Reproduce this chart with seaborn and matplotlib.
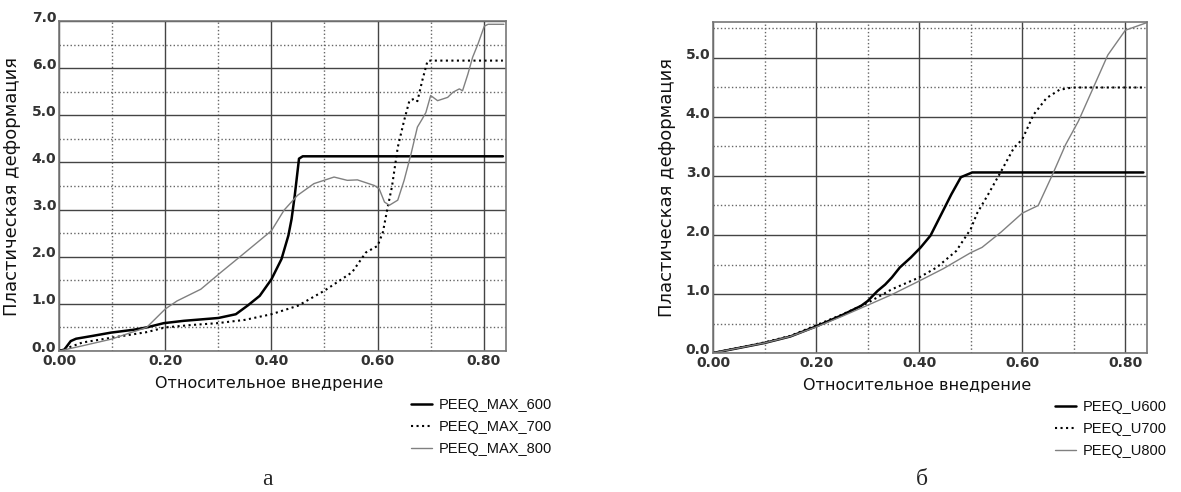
import matplotlib
matplotlib.use("Agg")
import matplotlib.pyplot as plt
import matplotlib.transforms as mtransforms
import seaborn as sns
import pandas as pd
from matplotlib.ticker import MultipleLocator, FormatStrFormatter

# ---- данные (а): PEEQ_MAX ----
x_max600 = [0, 0.01, 0.022, 0.032, 0.063, 0.098, 0.14, 0.165, 0.197, 0.235, 0.30, 0.333, 0.356,
            0.378, 0.40, 0.419, 0.432, 0.438, 0.444, 0.452, 0.459, 0.836]
y_max600 = [0, 0.03, 0.21, 0.26, 0.32, 0.39, 0.45, 0.50, 0.59, 0.64, 0.70, 0.78, 0.97,
            1.17, 1.52, 1.95, 2.45, 2.80, 3.30, 4.08, 4.13, 4.13]

x_max700 = [0, 0.044, 0.098, 0.165, 0.2, 0.248, 0.298, 0.35, 0.40, 0.45, 0.50, 0.552, 0.578, 0.60,
            0.61, 0.619, 0.627, 0.638, 0.65, 0.66, 0.669, 0.675, 0.684, 0.694, 0.70, 0.836]
y_max700 = [0, 0.18, 0.28, 0.40, 0.50, 0.55, 0.59, 0.66, 0.78, 0.96, 1.28, 1.67, 2.09, 2.23,
            2.52, 3.05, 3.48, 4.32, 4.89, 5.31, 5.35, 5.30, 5.73, 6.15, 6.16, 6.16]

x_max800 = [0, 0.044, 0.098, 0.165, 0.2, 0.222, 0.267, 0.305, 0.343, 0.40, 0.424, 0.449, 0.48,
            0.518, 0.543, 0.562, 0.594, 0.603, 0.613, 0.622, 0.638, 0.65, 0.663, 0.675, 0.684,
            0.691, 0.70, 0.713, 0.732, 0.742, 0.754, 0.76, 0.77, 0.779, 0.789, 0.801, 0.808, 0.838]
y_max800 = [0, 0.11, 0.25, 0.50, 0.89, 1.06, 1.31, 1.67, 2.02, 2.55, 2.99, 3.30, 3.55,
            3.69, 3.62, 3.63, 3.51, 3.44, 3.16, 3.09, 3.20, 3.62, 4.18, 4.75, 4.92,
            5.06, 5.42, 5.31, 5.38, 5.49, 5.56, 5.52, 5.87, 6.23, 6.51, 6.89, 6.93, 6.93]

# ---- данные (б): PEEQ_U ----
x_u600 = [0, 0.05, 0.1, 0.15, 0.2, 0.25, 0.2875, 0.30, 0.319, 0.334, 0.347, 0.3625, 0.384, 0.403,
          0.422, 0.444, 0.4625, 0.481, 0.503, 0.835]
y_u600 = [0, 0.085, 0.17, 0.28, 0.45, 0.64, 0.80, 0.88, 1.05, 1.16, 1.28, 1.45, 1.62, 1.79,
          1.99, 2.37, 2.69, 2.98, 3.06, 3.06]

x_u700 = [0, 0.05, 0.1, 0.15, 0.2, 0.25, 0.3, 0.347, 0.4, 0.434, 0.472, 0.5, 0.5125, 0.534, 0.559,
          0.584, 0.6, 0.622, 0.647, 0.672, 0.697, 0.835]
y_u700 = [0, 0.09, 0.18, 0.29, 0.47, 0.65, 0.85, 1.08, 1.28, 1.45, 1.73, 2.10, 2.37, 2.69, 3.08,
          3.48, 3.62, 4.04, 4.32, 4.46, 4.50, 4.50]

x_u800 = [0, 0.05, 0.1, 0.15, 0.2, 0.25, 0.3, 0.347, 0.4, 0.447, 0.5, 0.522, 0.559, 0.6, 0.631,
          0.659, 0.684, 0.709, 0.7375, 0.766, 0.80, 0.842]
y_u800 = [0, 0.085, 0.17, 0.28, 0.44, 0.62, 0.81, 0.99, 1.22, 1.43, 1.70, 1.79, 2.05, 2.37, 2.50,
          3.03, 3.53, 3.93, 4.49, 5.05, 5.47, 5.60]

labels_a = ['PEEQ_MAX_600', 'PEEQ_MAX_700', 'PEEQ_MAX_800']
labels_b = ['PEEQ_U600', 'PEEQ_U700', 'PEEQ_U800']

styles = [dict(color='black', lw=1.8, ls='-'),
          dict(color='black', lw=1.5, ls=':'),
          dict(color='#808080', lw=1.0, ls='-')]

sns.set_theme(style="white")
plt.rcParams['font.family'] = ['DejaVu Sans']

fig = plt.figure(figsize=(11.81, 4.92), dpi=100)
ax_a = fig.add_axes([0.050, 0.2866, 0.3785, 0.6707])
ax_b = fig.add_axes([0.6037, 0.2825, 0.3675, 0.6728])


def draw(ax, xs, ys, labels, ymax):
    for x, y, lab, st in zip(xs, ys, labels, styles):
        df = pd.DataFrame({'x': x, 'y': y})
        sns.lineplot(data=df, x='x', y='y', ax=ax, sort=False, label=lab,
                     color=st['color'], linewidth=st['lw'], linestyle=st['ls'])
    ax.set_xlim(0, 0.842)
    ax.set_ylim(0, ymax)
    ax.xaxis.set_major_locator(MultipleLocator(0.2))
    ax.xaxis.set_minor_locator(MultipleLocator(0.1))
    ax.yaxis.set_major_locator(MultipleLocator(1.0))
    ax.yaxis.set_minor_locator(MultipleLocator(0.5))
    ax.xaxis.set_major_formatter(FormatStrFormatter('%.2f'))
    ax.yaxis.set_major_formatter(FormatStrFormatter('%.1f'))
    ax.grid(which='major', color='#444444', lw=1.0, ls='-')
    ax.grid(which='minor', color='#666666', lw=1.0, ls=':')
    ax.set_axisbelow(True)
    ax.tick_params(which='both', length=0, labelsize=10, labelcolor='#333333')
    ax.tick_params(axis='y', pad=2)
    ax.tick_params(axis='x', pad=2)
    for t in ax.get_xticklabels() + ax.get_yticklabels():
        t.set_fontweight('bold')
    # подписи по оси Y чуть выше линий сетки
    shift = mtransforms.ScaledTranslation(0, 3.5 / 72, fig.dpi_scale_trans)
    for t in ax.get_yticklabels():
        t.set_transform(t.get_transform() + shift)
    for s in ax.spines.values():
        s.set_color('#777777')
        s.set_linewidth(1.2)
    ax.set_xlabel('Относительное внедрение', fontsize=11.5, color='#111111')
    ax.set_ylabel('Пластическая деформация', fontsize=13, color='#111111')
    ax.xaxis.set_label_coords(0.47, -0.075)
    ax.yaxis.set_label_coords(-0.085, 0.5)
    leg = ax.legend(loc='upper left', bbox_to_anchor=(0.775, -0.125), frameon=False,
                    handlelength=1.4, handletextpad=0.5, labelspacing=0.55,
                    borderaxespad=0, prop={'family': 'Liberation Sans', 'size': 10.5})
    for t in leg.get_texts():
        t.set_color('#111111')


draw(ax_a, [x_max600, x_max700, x_max800], [y_max600, y_max700, y_max800], labels_a, 7.0)
draw(ax_b, [x_u600, x_u700, x_u800], [y_u600, y_u700, y_u800], labels_b, 5.61)

fig.text(0.226, 0.015, 'а', fontsize=17, family='Liberation Serif', ha='center')
fig.text(0.781, 0.015, 'б', fontsize=17, family='Liberation Serif', ha='center')

fig.savefig('out.png', dpi=100)
